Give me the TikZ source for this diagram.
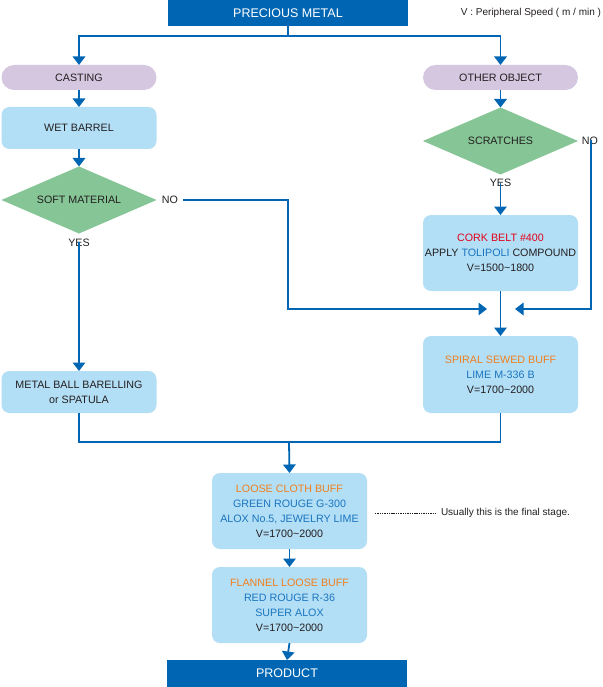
\documentclass[tikz,border=0pt]{standalone}
\usepackage{fontspec}
\setmainfont{Liberation Sans}
\usetikzlibrary{shapes.geometric,arrows.meta}
\definecolor{dblue}{HTML}{0066B3}
\definecolor{lblue}{HTML}{B3DFF6}
\definecolor{lpurple}{HTML}{D6C7E1}
\definecolor{lgreen}{HTML}{86C696}
\definecolor{torange}{HTML}{F07F1E}
\definecolor{tblue}{HTML}{1A75BF}
\definecolor{tred}{HTML}{E3001B}
\definecolor{tblack}{HTML}{231F20}
\newcommand{\bfnt}{\fontsize{10.7}{15}\selectfont}
\newcommand{\orn}[1]{\textcolor{torange}{#1}}
\newcommand{\blu}[1]{\textcolor{tblue}{#1}}
\newcommand{\rdd}[1]{\textcolor{tred}{#1}}
\begin{document}
\begin{tikzpicture}[x=1pt,y=-1pt,
  every node/.style={inner sep=0pt, outer sep=0pt, text=tblack, font=\bfnt},
  head/.style={fill=dblue, minimum width=240pt, text=white, font=\fontsize{12.5}{14}\selectfont},
  pill/.style={fill=lpurple, rounded corners=12.5pt, minimum width=155pt, minimum height=25pt},
  boxx/.style={fill=lblue, rounded corners=8pt, minimum width=155pt, align=center},
  dia/.style={diamond, fill=lgreen, aspect=2.3, minimum width=155pt, minimum height=67pt},
  conn/.style={draw=dblue, line width=1.8pt},
  arr/.style={conn, -{Triangle[width=12.5pt,length=8.5pt]}},
  small/.style={font=\fontsize{10}{12}\selectfont}
]
\fill[white] (0,0) rectangle (602,687);
\useasboundingbox (0,0) rectangle (602,687);

% nodes
\node[head, minimum height=26pt] (pm) at (288,13) {PRECIOUS METAL};
\node[small, anchor=east] (vnote) at (601,13) {V : Peripheral Speed ( m / min )};
\node[pill] (cast) at (79,77.5) {CASTING};
\node[pill] (other) at (500.5,77.5) {OTHER OBJECT};
\node[boxx, minimum height=42pt] (wet) at (79,128) {WET BARREL};
\node[dia] (soft) at (79,200) {SOFT MATERIAL};
\node[dia] (scr) at (500.5,141) {SCRATCHES};
\node (no1) at (170,200) {NO};
\node (no2) at (590,141) {NO};
\node (yes1) at (79,243) {YES};
\node (yes2) at (500.5,183) {YES};
\node[boxx, minimum height=76pt] (cork) at (500.5,253)
  {\rdd{CORK BELT \#400}\\APPLY \blu{TOLIPOLI} COMPOUND\\V=1500\textasciitilde1800};
\node[boxx, minimum height=77pt] (spiral) at (500.5,374.5)
  {\orn{SPIRAL SEWED BUFF}\\\blu{LIME M-336 B}\\V=1700\textasciitilde2000};
\node[boxx, minimum height=42pt] (metal) at (79,392)
  {METAL BALL BARELLING\\or SPATULA};
\node[boxx, minimum height=76pt] (loose) at (289.5,511)
  {\orn{LOOSE CLOTH BUFF}\\\blu{GREEN ROUGE G-300}\\\blu{ALOX No.5, JEWELRY LIME}\\V=1700\textasciitilde2000};
\node[boxx, minimum height=76pt] (flan) at (289.5,605)
  {\orn{FLANNEL LOOSE BUFF}\\\blu{RED ROUGE R-36}\\\blu{SUPER ALOX}\\V=1700\textasciitilde2000};
\node[head, minimum height=27pt] (prod) at (287,673.5) {PRODUCT};
\node[small, anchor=west] (fin) at (441,513) {Usually this is the final stage.};

% coordinates
\coordinate (j1) at (288,36);
\coordinate (c1) at (288,200);
\coordinate (m1) at (487,309);
\coordinate (m2) at (515,309);
\coordinate (j2) at (289,442);
\coordinate (d1) at (375,513);

% connectors
\draw[conn] (pm.south) -- (j1);
\draw[arr] (j1) -| (cast.north);
\draw[arr] (j1) -| (other.north);
\draw[arr] (cast.south) -- (wet.north);
\draw[arr] (wet.south) -- (soft.north);
\draw[arr] (other.south) -- (scr.north);
\draw[arr] ([xshift=5pt]no1.east) -- (c1) |- (m1);
\draw[arr] ([xshift=1pt,yshift=5pt]no2.south) |- (m2);
\draw[arr] ([yshift=4pt]yes2.south) -- (cork.north);
\draw[arr] (cork.south) -- (spiral.north);
\draw[arr] ([yshift=5pt]yes1.south) -- (metal.north);
\draw[conn] (metal.south) |- (j2) -| (spiral.south);
\draw[arr] (j2) -- (loose.north);
\draw[arr] (loose.south) -- (flan.north);
\draw[arr] (flan.south) -- (prod.north);
\draw[tblack, line width=0.5pt, dash pattern=on 1.4pt off 0.9pt] (d1) -- ([xshift=-6pt]fin.west);
\end{tikzpicture}
\end{document}
